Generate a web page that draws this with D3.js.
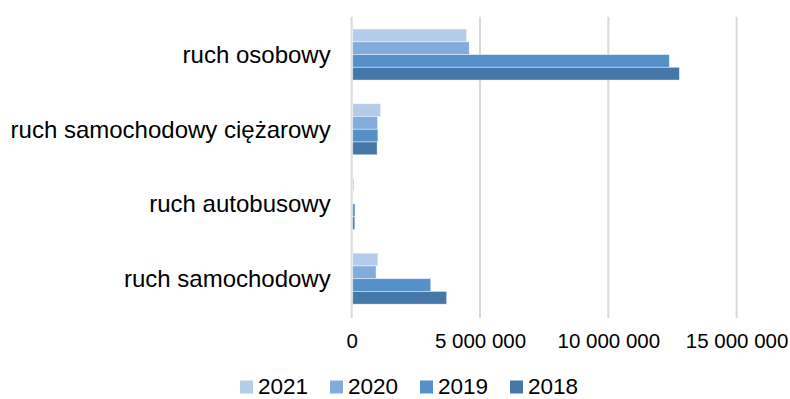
<!DOCTYPE html>
<html>
<head>
<meta charset="utf-8">
<script src="https://cdn.jsdelivr.net/npm/d3@7/dist/d3.min.js"></script>
<style>
  html, body { margin: 0; padding: 0; background: #fff; }
  svg { display: block; font-family: "Liberation Sans", Arial, sans-serif; }
</style>
</head>
<body>
<svg id="chart" width="790" height="399"></svg>
<script>
const categories = ["ruch osobowy", "ruch samochodowy ciężarowy", "ruch autobusowy", "ruch samochodowy"];
const seriesNames = ["2021", "2020", "2019", "2018"];
const values2021 = [4480000, 1130000, 90000, 1020000];
const values2020 = [4580000, 1010000, 30000, 950000];
const values2019 = [12380000, 1020000, 130000, 3080000];
const values2018 = [12770000, 990000, 120000, 3700000];
const tickValues = [0, 5000000, 10000000, 15000000];
const tickLabels = ["0", "5 000 000", "10 000 000", "15 000 000"];
const colors = ["#b4cce9", "#82acdb", "#5591c8", "#4577a9"];

const seriesValues = [values2021, values2020, values2019, values2018];

const svg = d3.select("#chart");
const mLeft = 351.7, mRight = 736.6, mTop = 17.2, mBottom = 316;

const x = d3.scaleLinear().domain([0, 15000000]).range([mLeft, mRight]);
const y = d3.scaleBand().domain(categories).range([mTop, mBottom]).paddingInner(0.317).paddingOuter(0.1585);
const ys = d3.scaleBand().domain(seriesNames).range([0, y.bandwidth()]);

// gridlines
svg.append("g").selectAll("line").data(tickValues).join("line")
  .attr("x1", d => x(d)).attr("x2", d => x(d))
  .attr("y1", mTop - 0.5).attr("y2", mBottom + 2)
  .attr("stroke", "#d9d9d9").attr("stroke-width", 2);

// bars
const groups = svg.append("g").selectAll("g").data(categories).join("g")
  .attr("transform", d => `translate(0,${y(d)})`);
groups.selectAll("rect").data((c, ci) => seriesNames.map((s, si) => ({s, si, v: seriesValues[si][ci]})))
  .join("rect")
  .attr("x", x(0) + 1)
  .attr("y", d => ys(d.s))
  .attr("width", d => Math.max(0, x(d.v) - x(0) - 1))
  .attr("height", ys.bandwidth())
  .attr("fill", d => colors[d.si])
  .attr("stroke", "rgba(255,255,255,0.55)")
  .attr("stroke-width", 0.8);

// x axis labels
const xAxis = d3.axisBottom(x).tickValues(tickValues).tickFormat((d, i) => tickLabels[i]).tickSize(0).tickPadding(0);
const gx = svg.append("g").attr("transform", `translate(0,${mBottom})`).call(xAxis);
gx.select(".domain").remove();
gx.selectAll("text").attr("font-size", "20.5px").attr("fill", "#000")
  .attr("font-family", "'Liberation Sans', Arial, sans-serif")
  .attr("dy", null).attr("y", 32);

// y axis labels
const yAxis = d3.axisLeft(y).tickSize(0).tickPadding(0);
const gy = svg.append("g").attr("transform", `translate(${mLeft - 21},0)`).call(yAxis);
gy.select(".domain").remove();
gy.selectAll("text").attr("font-size", "24px").attr("fill", "#000")
  .attr("font-family", "'Liberation Sans', Arial, sans-serif")
  .attr("dy", "0.35em");

// legend
const legend = svg.append("g");
const lx = d3.scalePoint().domain(seriesNames).range([240, 510]);
const items = legend.selectAll("g").data(seriesNames).join("g")
  .attr("transform", d => `translate(${lx(d)},0)`);
items.append("rect").attr("x", 0).attr("y", 380.5).attr("width", 13).attr("height", 13)
  .attr("fill", (d, i) => colors[i]);
items.append("text").attr("x", 18).attr("y", 394).attr("font-size", "22.5px").attr("fill", "#000")
  .text(d => d);
</script>
</body>
</html>
